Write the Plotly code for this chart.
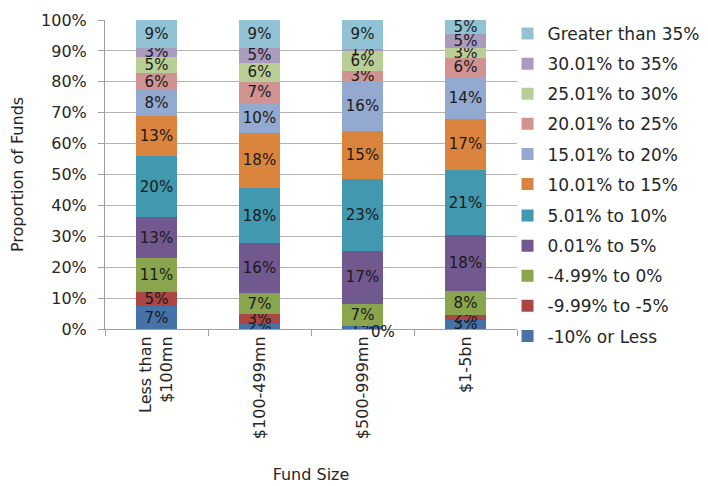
import plotly.graph_objects as go

FONT = "DejaVu Sans"

fund_sizes = ["Less than<br>$100mn", "$100-499mn", "$500-999mn", "$1-5bn"]

return_bands = [
    "-10% or Less",
    "-9.99% to -5%",
    "-4.99% to 0%",
    "0.01% to 5%",
    "5.01% to 10%",
    "10.01% to 15%",
    "15.01% to 20%",
    "20.01% to 25%",
    "25.01% to 30%",
    "30.01% to 35%",
    "Greater than 35%",
]

# share of funds (%) per fund size, one list per return band
band_10_or_less = [7.4, 1.6, 0.9, 3.0]
band_m999_m5 = [4.6, 3.1, 0.0, 1.6]
band_m499_0 = [11.1, 7.1, 7.2, 7.8]
band_001_5 = [13.0, 15.9, 17.2, 18.0]
band_501_10 = [19.9, 18.0, 23.4, 21.0]
band_1001_15 = [12.9, 17.8, 15.4, 16.7]
band_1501_20 = [8.3, 9.6, 16.3, 13.6]
band_2001_25 = [5.7, 6.9, 3.1, 6.1]
band_2501_30 = [5.2, 6.1, 6.4, 3.0]
band_3001_35 = [3.0, 4.9, 0.8, 4.6]
band_over_35 = [8.9, 9.0, 9.3, 4.6]

series = [
    band_10_or_less, band_m999_m5, band_m499_0, band_001_5, band_501_10,
    band_1001_15, band_1501_20, band_2001_25, band_2501_30, band_3001_35, band_over_35,
]

colors = [
    "#4572A7", "#AA4643", "#89A54E", "#71588F", "#4198AF",
    "#DB843D", "#93A9CF", "#D19392", "#B9CD96", "#A99BBD", "#91C3D5",
]

fig = go.Figure()

for i, (name, vals, color) in enumerate(zip(return_bands, series, colors)):
    labels = [f"{v:.0f}%" if v > 0 else "" for v in vals]
    fig.add_trace(
        go.Bar(
            x=fund_sizes,
            y=vals,
            name=name,
            legendgroup=name,
            legendrank=200 - i,  # highest band listed first
            # legend is split in two so the tall list is not clipped
            legend="legend" if i >= 5 else "legend2",
            marker={"color": color, "line": {"width": 0}},
            text=labels,
            textposition="inside",
            insidetextanchor="middle",
            textangle=0,
            textfont={"family": FONT, "size": 15, "color": "#1a1a1a"},
            hoverinfo="name+y",
        )
    )

# zero-height segments still get their label, like the source
for name, vals in zip(return_bands, series):
    for cat, v in zip(fund_sizes, vals):
        if v == 0:
            fig.add_annotation(
                x=cat, y=v, text=f"{v:.0f}%", showarrow=False,
                xshift=20, yshift=-3,
                font={"family": FONT, "size": 15, "color": "#1a1a1a"},
            )

legend_style = {
    "traceorder": "grouped",
    "x": 0.977,
    "xanchor": "left",
    "yanchor": "top",
    "tracegroupgap": 5,
    "font": {"family": FONT, "size": 17, "color": "#262626"},
    "itemwidth": 30,
    "bgcolor": "rgba(0,0,0,0)",
}

# page body adds an 8px margin, so the figure is a bit smaller than the window
fig.update_layout(
    width=700,
    height=478,
    barmode="stack",
    bargap=0.6,
    plot_bgcolor="white",
    paper_bgcolor="white",
    font={"family": FONT, "size": 15, "color": "#262626"},
    margin={"l": 97, "r": 191, "t": 12, "b": 157, "autoexpand": False},
    uniformtext={"minsize": 15, "mode": "show"},
    legend={**legend_style, "y": 1.013},
    legend2={**legend_style, "y": 0.424},
    xaxis={
        "title": {"text": "Fund Size", "font": {"size": 16}, "standoff": 30},
        "tickangle": -90,
        "tickson": "boundaries",
        "ticks": "outside",
        "ticklen": 6,
        "tickcolor": "#a0a0a0",
        "showline": True,
        "linecolor": "#a0a0a0",
        "tickfont": {"size": 16},
    },
    yaxis={
        "title": {"text": "Proportion of Funds", "font": {"size": 16}, "standoff": 17},
        "range": [0, 100],
        "dtick": 10,
        "ticksuffix": "%",
        "ticks": "outside",
        "ticklen": 6,
        "ticklabelstandoff": 8,
        "tickcolor": "#a0a0a0",
        "showline": True,
        "linecolor": "#a0a0a0",
        "showgrid": True,
        "gridcolor": "#b3b3b3",
        "gridwidth": 1,
        "zeroline": False,
        "tickfont": {"size": 16},
    },
)

fig.write_html("out.html")
